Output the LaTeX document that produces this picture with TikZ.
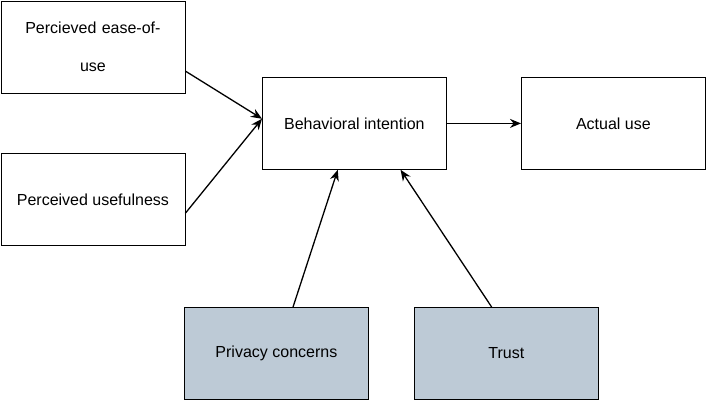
\documentclass[tikz,border=0pt]{standalone}
\usepackage{fontspec}
\setmainfont{Liberation Sans}
\usetikzlibrary{calc,arrows.meta}
\definecolor{concern}{RGB}{189,202,214}
\begin{document}
\begin{tikzpicture}[x=1pt,y=-1pt,>={Stealth[length=11pt,width=9pt]},
  box/.style={draw,line width=0.8pt,minimum width=184pt,minimum height=92pt,inner sep=2pt,
    font=\fontsize{16}{19}\selectfont},
  grey/.style={box,fill=concern},
  link/.style={->,line width=1.3pt}]
   \useasboundingbox (0,0) rectangle (708,402);
   % Kästen
   \node[box,anchor=north west,align=center,text width=176pt] (ease) at (0.5,0.5) {Percieved ease-of-\\[19pt]use\\[22pt]};
   \node[box,anchor=north west] (useful) at (0.5,153) {Perceived usefulness};
   \node[box,anchor=north west] (intent) at (262,77) {Behavioral intention};
   \node[box,anchor=north west] (actual) at (521,77) {Actual use};
   \node[grey,anchor=north west] (privacy) at (184,307) {Privacy concerns};
   \node[grey,anchor=north west] (trust) at (414,307) {Trust};

   % Pfeile
   \coordinate (in) at ($(intent.north west)!0.45!(intent.south west)$);
   \draw[link] ($(ease.north east)!0.76!(ease.south east)$) -- (in);
   \draw[link] ($(useful.north east)!0.65!(useful.south east)$) -- (in);
   \draw[link] (intent) -- (actual);
   \draw[link] ($(privacy.north west)!0.59!(privacy.north east)$) -- ($(intent.south west)!0.41!(intent.south east)$);
   \draw[link] ($(trust.north west)!0.42!(trust.north east)$) -- ($(intent.south west)!0.75!(intent.south east)$);
\end{tikzpicture}
\end{document}
